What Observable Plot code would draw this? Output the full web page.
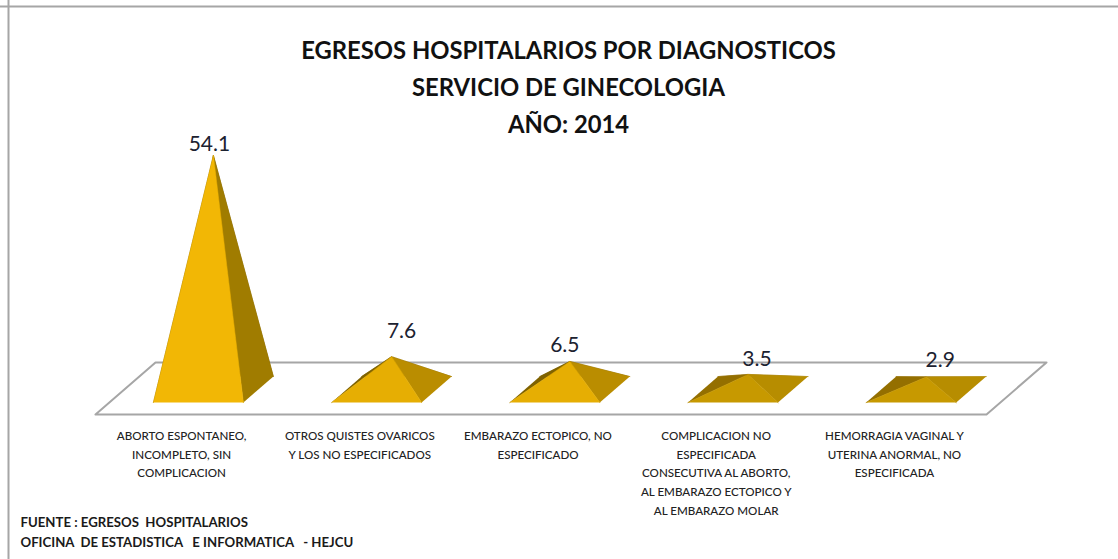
<!DOCTYPE html>
<html>
<head>
<meta charset="utf-8">
<script src="https://cdn.jsdelivr.net/npm/d3@7"></script>
<script src="https://cdn.jsdelivr.net/npm/@observablehq/plot@0.6"></script>
<style>html,body{margin:0;padding:0;background:#fff}svg{display:block}</style>
</head>
<body>
<div id="chart"></div>
<script>
const categories = [
  "ABORTO ESPONTANEO,\nINCOMPLETO, SIN\nCOMPLICACION",
  "OTROS QUISTES OVARICOS\nY LOS NO ESPECIFICADOS",
  "EMBARAZO ECTOPICO, NO\nESPECIFICADO",
  "COMPLICACION NO\nESPECIFICADA\nCONSECUTIVA AL ABORTO,\nAL EMBARAZO ECTOPICO Y\nAL EMBARAZO MOLAR",
  "HEMORRAGIA VAGINAL Y\nUTERINA ANORMAL, NO\nESPECIFICADA"
];
const values = [54.1, 7.6, 6.5, 3.5, 2.9];
const titleLines = ["EGRESOS HOSPITALARIOS POR DIAGNOSTICOS", "SERVICIO DE GINECOLOGIA", "AÑO: 2014"];
const sourceLines = ["FUENTE : EGRESOS  HOSPITALARIOS", "OFICINA  DE ESTADISTICA   E INFORMATICA   - HEJCU"];

// layout and styling
const W = 1118, H = 559, unitX = 178.2, unitY = 4.33, originX = 95, originY = 414;
const P = px => (px - originX) / unitX, V = py => (originY - py) / unitY;
const shearX = 60 / unitX, shearY = 52 / unitY;
const halfW = 0.2525, d0 = 0.23, d1 = 0.73, dMid = 0.48;
const frontFill = ["#F2B705", "#E6AE03", "#E6AE03", "#C79900", "#C79900"];
const rightFill = ["#A07C00", "#BA8D00", "#BA8D00", "#B78D00", "#B78D00"];
const backFill  = ["#7F6200", "#7F6200", "#7F6200", "#946F00", "#946F00"];
const labelNudge = [[-4, -11], [10, -25], [-5, -16], [9, -15], [14, -17]];

const pt = (p, d, v) => ({x: p + d * shearX, y: v + d * shearY});
const faces = values.flatMap((v, i) => {
  const c = i + 0.5, l = c - halfW, r = c + halfW;
  const fl = pt(l, d0, 0), fr = pt(r, d0, 0), bl = pt(l, d1, 0), br = pt(r, d1, 0);
  const apex = pt(c, dMid, v);
  const face = (name, fill, pts) => pts.map(q => ({...q, face: `${i}-${name}`, fill}));
  return [
    ...face("back", backFill[i], [bl, apex, br]),
    ...face("left", backFill[i], [fl, apex, bl]),
    ...face("right", rightFill[i], [fr, apex, br]),
    ...face("front", frontFill[i], [fl, apex, fr])
  ];
});
const floor = [pt(0, 0, 0), pt(5, 0, 0), pt(5, 1, 0), pt(0, 1, 0), pt(0, 0, 0)];
const valueLabels = labelNudge.map(([dx, dy], i) => {
  const a = pt(i + 0.5, dMid, values[i]);
  return Plot.text([{...a, t: String(values[i])}], {x: "x", y: "y", text: "t", dx, dy, fontSize: 21, fill: "#1c2230"});
});

const chart = Plot.plot({
  width: W, height: H,
  marginTop: 0, marginRight: 0, marginBottom: 0, marginLeft: 0,
  x: {domain: [P(0), P(W)], axis: null},
  y: {domain: [V(H), V(0)], axis: null},
  color: {type: "identity"},
  style: {background: "#fff", fontFamily: "Lato, Carlito, sans-serif", whiteSpace: "pre"},
  marks: [
    Plot.ruleY([V(6)], {stroke: "#a6a6a6", strokeWidth: 2}),
    Plot.ruleX([P(8)], {stroke: "#a6a6a6", strokeWidth: 2}),
    Plot.line(floor, {x: "x", y: "y", stroke: "#a6a6a6", strokeWidth: 2, fill: "#fff", curve: "linear"}),
    Plot.line(faces, {x: "x", y: "y", z: "face", fill: "fill", stroke: "fill", strokeWidth: 0.5, curve: "linear"}),
    ...valueLabels,
    Plot.text(categories.map((t, i) => ({t, x: i + 0.5})), {
      x: "x", y: () => V(426), text: "t", dx: -3, lineAnchor: "top",
      fontSize: 11.6, lineHeight: 1.62, fill: "#222", fontWeight: 500
    }),
    Plot.text([titleLines.join("\n")], {
      frameAnchor: "top", dx: 9, dy: 32, lineAnchor: "top", text: d => d,
      fontSize: 23.8, fontWeight: 700, lineHeight: 1.555, fill: "#111"
    }),
    Plot.text([sourceLines.join("\n")], {
      frameAnchor: "top-left", dx: 20, dy: 512, lineAnchor: "top", textAnchor: "start", text: d => d,
      fontSize: 13.2, fontWeight: 700, lineHeight: 1.52, fill: "#1a1a1a"
    })
  ]
});
document.getElementById("chart").append(chart);
</script>
</body>
</html>
